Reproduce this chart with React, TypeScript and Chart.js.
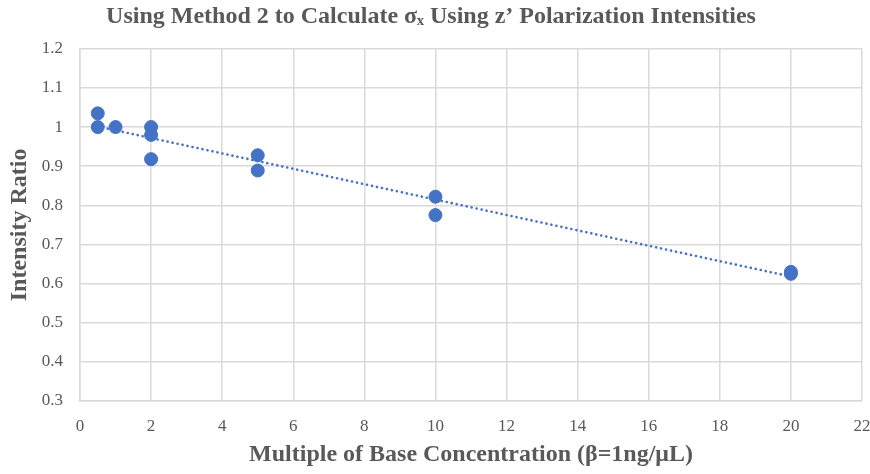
import React, { useEffect, useRef } from "react";
import { Chart, registerables } from "chart.js";

Chart.register(...registerables);

const xValues = [0.5, 0.5, 1, 2, 2, 2, 5, 5, 10, 10, 20, 20];
const yValues = [1.035, 1.0, 1.0, 1.0, 0.98, 0.918, 0.928, 0.889, 0.822, 0.775, 0.63, 0.625];
const xTicks = [0, 2, 4, 6, 8, 10, 12, 14, 16, 18, 20, 22];
const yTicks = [0.3, 0.4, 0.5, 0.6, 0.7, 0.8, 0.9, 1, 1.1, 1.2];

const TITLE = "Using Method 2 to Calculate σₓ Using z’ Polarization Intensities";
const X_TITLE = "Multiple of Base Concentration (β=1ng/μL)";
const Y_TITLE = "Intensity Ratio";

function trend() {
  const n = xValues.length;
  const mx = xValues.reduce((a, b) => a + b, 0) / n;
  const my = yValues.reduce((a, b) => a + b, 0) / n;
  let sxy = 0, sxx = 0;
  for (let i = 0; i < n; i++) {
    sxy += (xValues[i] - mx) * (yValues[i] - my);
    sxx += (xValues[i] - mx) ** 2;
  }
  const m = sxy / sxx;
  const b = my - m * mx;
  const x0 = Math.min(...xValues);
  const x1 = Math.max(...xValues);
  return [
    { x: x0, y: m * x0 + b },
    { x: x1, y: m * x1 + b },
  ];
}

export default function App() {
  const ref = useRef<HTMLCanvasElement>(null);
  useEffect(() => {
    const gray = "#595959";
    const grid = "#d9d9d9";
    const blue = "#4472C4";
    const serif = "'Liberation Serif', 'Times New Roman', serif";
    const chart = new Chart(ref.current!, {
      type: "scatter",
      data: {
        datasets: [
          {
            type: "line",
            data: trend(),
            borderColor: blue,
            borderWidth: 2.6,
            borderDash: [0.1, 5],
            borderCapStyle: "round",
            pointRadius: 0,
            fill: false,
            order: 2,
          } as any,
          {
            data: xValues.map((x, i) => ({ x, y: yValues[i] })),
            backgroundColor: blue,
            borderColor: blue,
            pointRadius: 6.5,
            order: 1,
          },
        ],
      },
      options: {
        animation: false,
        responsive: false,
        layout: { padding: { left: 0, right: 8, top: 0, bottom: 0 } },
        plugins: {
          legend: { display: false },
          tooltip: { enabled: false },
          title: {
            display: true,
            text: TITLE,
            color: gray,
            font: { family: serif, size: 24, weight: "bold", lineHeight: 1.2 },
            padding: { top: 2, bottom: 18 },
          },
        },
        scales: {
          x: {
            type: "linear",
            min: 0,
            max: 22,
            afterBuildTicks: (s: any) => {
              s.ticks = xTicks.map((v) => ({ value: v }));
            },
            afterFit: (s: any) => {
              s.height = 73;
              s.paddingRight = 0;
              s.paddingLeft = 0;
            },
            ticks: { color: gray, font: { family: serif, size: 17 }, padding: 15, maxRotation: 0 },
            grid: { color: grid, lineWidth: 1.5, drawTicks: false },
            border: { color: grid, width: 1.5 },
            title: {
              display: true,
              text: X_TITLE,
              color: gray,
              font: { family: serif, size: 24, weight: "bold", lineHeight: 1.2 },
              padding: { top: 0, bottom: 5 },
            },
          },
          y: {
            type: "linear",
            min: 0.3,
            max: 1.2,
            afterBuildTicks: (s: any) => {
              s.ticks = yTicks.map((v) => ({ value: v }));
            },
            afterFit: (s: any) => {
              s.width = 80;
            },
            ticks: {
              color: gray,
              font: { family: serif, size: 17 },
              padding: 17,
              callback: (v: any) => String(Math.round(Number(v) * 10) / 10),
            },
            grid: { color: grid, lineWidth: 1.5, drawTicks: false },
            border: { color: grid, width: 1.5 },
            title: {
              display: true,
              text: Y_TITLE,
              color: gray,
              font: { family: serif, size: 24, weight: "bold", lineHeight: 1.2 },
              padding: { top: 5, bottom: 0 },
            },
          },
        },
      },
    });
    return () => chart.destroy();
  }, []);
  return (
    <div style={{ position: "fixed", left: 0, top: 0, width: 870, height: 474, background: "#fff" }}>
      <canvas ref={ref} width={870} height={474} style={{ width: 870, height: 474 }} />
    </div>
  );
}
